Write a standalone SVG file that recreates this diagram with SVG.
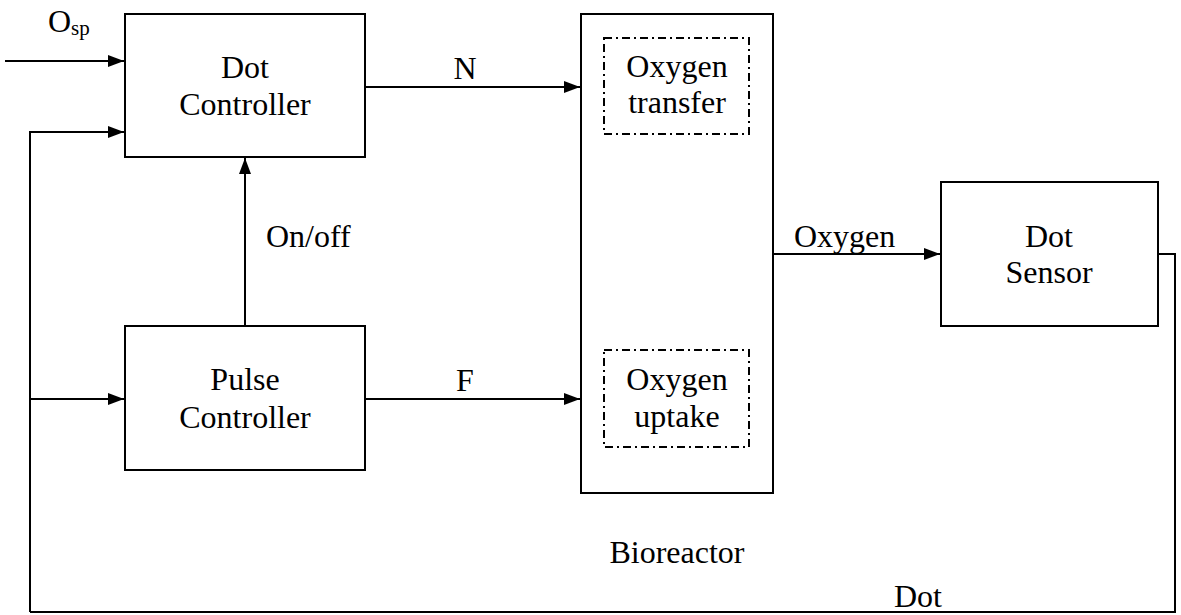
<svg xmlns="http://www.w3.org/2000/svg" width="1181" height="615" viewBox="0 0 1181 615">
<style>
.box{fill:#fff;stroke:#000;stroke-width:2}
.sub{fill:none;stroke:#000;stroke-width:2;stroke-dasharray:8 4 2 4}
.ln{fill:none;stroke:#000;stroke-width:2}
text{font-family:'Liberation Serif','Times New Roman','DejaVu Serif',serif;font-size:32px;fill:#000}
.c{text-anchor:middle}
</style>
<defs>
<marker id="ah" viewBox="0 0 16 12" refX="16" refY="6" markerWidth="16" markerHeight="12" markerUnits="userSpaceOnUse" orient="auto">
<path d="M0,0 L16,6 L0,12 z" fill="#000"/>
</marker>
</defs>
<rect width="1181" height="615" fill="#fff"/>
<g id="connectors" font-family="Liberation Serif, serif">
<path class="ln" d="M5,61 H124" marker-end="url(#ah)"/>
<path class="ln" d="M30,612 V132 H124" marker-end="url(#ah)"/>
<path class="ln" d="M30,399 H124" marker-end="url(#ah)"/>
<path class="ln" d="M365,87 H580" marker-end="url(#ah)"/>
<path class="ln" d="M365,399 H580" marker-end="url(#ah)"/>
<path class="ln" d="M245,326 V158" marker-end="url(#ah)"/>
<path class="ln" d="M773,254 H940" marker-end="url(#ah)"/>
<path class="ln" d="M1158,254 H1175 V612 H30"/>
<text x="48" y="32">O<tspan font-size="21" dy="3">sp</tspan></text>
<text x="465" y="79" class="c">N</text>
<text x="465" y="391" class="c">F</text>
<text x="266" y="247">On/off</text>
<text x="794" y="247">Oxygen</text>
<text x="918" y="607" class="c">Dot</text>
</g>
<g id="dot-controller">
<rect class="box" x="125" y="14" width="240" height="143"/>
<text x="245" y="78" class="c">Dot</text>
<text x="245" y="115" class="c">Controller</text>
</g>
<g id="pulse-controller">
<rect class="box" x="125" y="326" width="240" height="144"/>
<text x="245" y="390" class="c">Pulse</text>
<text x="245" y="428" class="c">Controller</text>
</g>
<g id="bioreactor">
<rect class="box" x="581" y="14" width="192" height="479"/>
<text x="677" y="563" class="c">Bioreactor</text>
</g>
<g id="oxygen-transfer">
<rect class="sub" x="604" y="38" width="145" height="96"/>
<text x="677" y="77" class="c">Oxygen</text>
<text x="677" y="113" class="c">transfer</text>
</g>
<g id="oxygen-uptake">
<rect class="sub" x="604" y="350" width="145" height="97"/>
<text x="677" y="390" class="c">Oxygen</text>
<text x="677" y="427" class="c">uptake</text>
</g>
<g id="dot-sensor">
<rect class="box" x="941" y="182" width="217" height="144"/>
<text x="1049" y="247" class="c">Dot</text>
<text x="1049" y="283" class="c">Sensor</text>
</g>
</svg>
